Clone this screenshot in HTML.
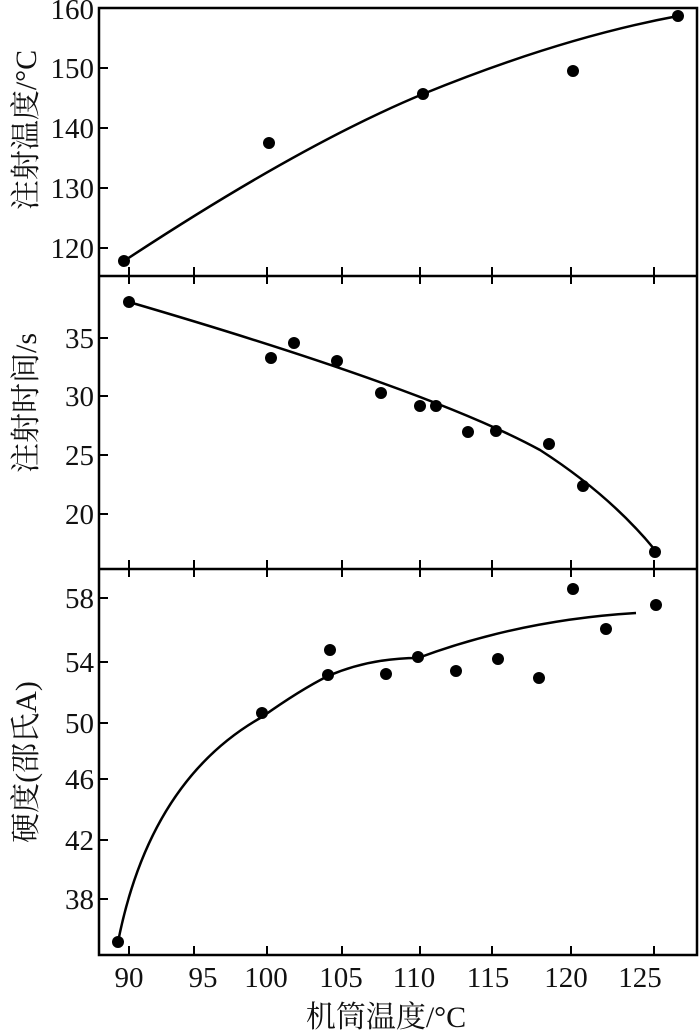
<!DOCTYPE html>
<html><head><meta charset="utf-8"><style>
html,body{margin:0;padding:0;background:#fff;}
svg{display:block;}
.t{font-family:"Liberation Serif","Noto Serif CJK SC",serif;font-size:29px;fill:#111;}
.c{font-family:"Liberation Serif","Noto Serif CJK SC",serif;font-size:30px;fill:#111;}
</style></head><body>
<svg width="700" height="1033" viewBox="0 0 700 1033" xmlns="http://www.w3.org/2000/svg">
<g stroke="#000" stroke-width="2.5" fill="none">
<rect x="99" y="8" width="598" height="947"/>
<line x1="99" y1="276" x2="697" y2="276"/>
<line x1="99" y1="569" x2="697" y2="569"/>
</g>
<g stroke="#000" stroke-width="2">
<path d="M129 276v-9M194 276v-9M267 276v-9M342 276v-9M420 276v-9M492 276v-9M571 276v-9M654 276v-9
M129 276v8M194 276v8M267 276v8M342 276v8M420 276v8M492 276v8M571 276v8M654 276v8
M129 569v-9M194 569v-9M267 569v-9M342 569v-9M420 569v-9M492 569v-9M571 569v-9M654 569v-9
M129 569v8M194 569v8M267 569v8M342 569v8M420 569v8M492 569v8M571 569v8M654 569v8
M129 955v-9M194 955v-9M267 955v-9M342 955v-9M420 955v-9M492 955v-9M571 955v-9M654 955v-9"/>
<path d="M99 68h9M99 128h9M99 188h9M99 248h9
M99 338h9M99 396h9M99 455h9M99 514h9
M99 598h9M99 662h9M99 723h9M99 779h9M99 840h9M99 899h9"/>
</g>
<g class="t" text-anchor="end">
<text x="94" y="19">160</text><text x="94" y="78">150</text><text x="94" y="138">140</text><text x="94" y="198">130</text><text x="94" y="258">120</text>
<text x="94" y="348">35</text><text x="94" y="406">30</text><text x="94" y="465">25</text><text x="94" y="524">20</text>
<text x="94" y="608">58</text><text x="94" y="672">54</text><text x="94" y="733">50</text><text x="94" y="789">46</text><text x="94" y="850">42</text><text x="94" y="909">38</text>
</g>
<g class="t" text-anchor="middle">
<text x="129" y="987">90</text><text x="203" y="987">95</text><text x="266" y="987">100</text><text x="341" y="987">105</text><text x="414" y="987">110</text><text x="488" y="987">115</text><text x="566" y="987">120</text><text x="640" y="987">125</text>
</g>
<text class="c" x="386" y="1027" text-anchor="middle">机筒温度/°C</text>
<text class="c" transform="translate(36,130) rotate(-90)" text-anchor="middle" font-size="33">注射温度/°C</text>
<text class="c" transform="translate(36,403) rotate(-90)" text-anchor="middle" font-size="31">注射时间/s</text>
<text class="c" transform="translate(36,762) rotate(-90)" text-anchor="middle">硬度(邵氏A)</text>
<g stroke="#000" stroke-width="2.5" fill="none">
<path d="M124 261 Q300 145 423 94 Q560 38 678 16"/>
<path d="M129 302 Q430 390 540 450 Q610 495 655 550"/>
<path d="M118 942 Q150 780 262 717 Q300 690 328 676 Q370 658 418 658 Q520 620 636 613"/>
</g>
<g fill="#000">
<circle cx="124" cy="261" r="6"/><circle cx="269" cy="143" r="6"/><circle cx="423" cy="94" r="6"/><circle cx="573" cy="71" r="6"/><circle cx="678" cy="16" r="6"/>
<circle cx="129" cy="302" r="6"/><circle cx="271" cy="358" r="6"/><circle cx="294" cy="343" r="6"/><circle cx="337" cy="361" r="6"/><circle cx="381" cy="393" r="6"/><circle cx="420" cy="406" r="6"/><circle cx="436" cy="406" r="6"/><circle cx="468" cy="432" r="6"/><circle cx="496" cy="431" r="6"/><circle cx="549" cy="444" r="6"/><circle cx="583" cy="486" r="6"/><circle cx="655" cy="552" r="6"/>
<circle cx="118" cy="942" r="6"/><circle cx="262" cy="713" r="6"/><circle cx="330" cy="650" r="6"/><circle cx="328" cy="675" r="6"/><circle cx="386" cy="674" r="6"/><circle cx="418" cy="657" r="6"/><circle cx="456" cy="671" r="6"/><circle cx="498" cy="659" r="6"/><circle cx="539" cy="678" r="6"/><circle cx="573" cy="589" r="6"/><circle cx="606" cy="629" r="6"/><circle cx="656" cy="605" r="6"/>
</g>
</svg>
</body></html>
